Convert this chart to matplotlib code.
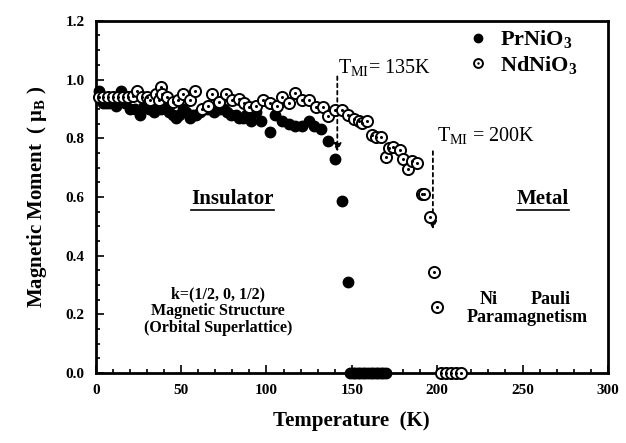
import numpy as np
import matplotlib
matplotlib.use("Agg")
import matplotlib.pyplot as plt
from matplotlib.legend_handler import HandlerTuple

plt.rcParams['font.family'] = ['Liberation Serif', 'DejaVu Serif']
plt.rcParams['mathtext.fontset'] = 'custom'
plt.rcParams['mathtext.rm'] = 'Liberation Serif'
plt.rcParams['mathtext.it'] = 'Liberation Serif:italic'
plt.rcParams['mathtext.bf'] = 'Liberation Serif:bold'

# PrNiO3 (filled)
pr_temp = [2, 4, 6, 8, 10, 12, 15, 17, 20, 23, 26, 28, 31, 34, 36, 38, 41, 43, 45,
           47, 49, 51, 53, 55, 57, 59, 61, 63, 65, 67, 69, 71, 73, 75, 77, 79, 82,
           84, 86, 88, 91, 94, 97, 102, 105, 109, 113, 117, 121, 125, 128, 132,
           136, 140, 144, 148]
pr_moment = [0.96, 0.92, 0.92, 0.92, 0.92, 0.91, 0.96, 0.92, 0.90, 0.90, 0.88,
             0.91, 0.90, 0.89, 0.90, 0.90, 0.91, 0.89, 0.88, 0.87, 0.88, 0.90,
             0.89, 0.87, 0.88, 0.88, 0.89, 0.90, 0.90, 0.90, 0.89, 0.90, 0.90,
             0.90, 0.89, 0.88, 0.88, 0.87, 0.87, 0.88, 0.86, 0.89, 0.86, 0.82,
             0.88, 0.86, 0.85, 0.84, 0.84, 0.86, 0.84, 0.83, 0.79, 0.73, 0.585,
             0.31]
pr_zero_temp = [149, 150.5, 152, 153.5, 155, 156.5, 158, 159.5, 161, 162.5, 164,
                165.5, 167, 168.5, 170]

# NdNiO3 (open, dotted)
nd_temp = [2, 4, 7, 10, 13, 16, 19, 22, 24, 27, 30, 32, 35, 37, 38, 39, 42, 45,
           48, 51, 55, 58, 62, 66, 68, 72, 76, 80, 84, 87, 90, 94, 98, 102, 106,
           109, 113, 117, 121, 125, 129, 133, 136, 140, 144, 148, 151, 154, 156,
           159, 162, 164, 167, 170, 172, 174, 178, 180, 183, 185, 188, 191, 192.5,
           196, 198, 200]
nd_moment = [0.94, 0.94, 0.94, 0.94, 0.94, 0.94, 0.94, 0.945, 0.96, 0.94, 0.94,
             0.93, 0.95, 0.93, 0.975, 0.95, 0.94, 0.925, 0.93, 0.95, 0.93, 0.96,
             0.90, 0.91, 0.95, 0.925, 0.95, 0.93, 0.935, 0.92, 0.905, 0.91, 0.93,
             0.92, 0.91, 0.94, 0.92, 0.955, 0.93, 0.93, 0.905, 0.905, 0.875, 0.895,
             0.895, 0.88, 0.867, 0.857, 0.853, 0.857, 0.812, 0.805, 0.805, 0.737,
             0.768, 0.77, 0.76, 0.73, 0.696, 0.723, 0.717, 0.61, 0.61, 0.53, 0.345,
             0.225]
nd_zero_temp = [202, 205, 208, 211, 214]

fig = plt.figure(figsize=(6.26, 4.43), dpi=100)
ax = fig.add_axes([0.153, 0.158, 0.818, 0.795])

pr_x = pr_temp + pr_zero_temp
pr_y = pr_moment + [0.0] * len(pr_zero_temp)
nd_x = nd_temp + nd_zero_temp
nd_y = nd_moment + [0.0] * len(nd_zero_temp)

h_pr, = ax.plot(pr_x, pr_y, 'o', ms=7.5, color='black', clip_on=False, zorder=3)
h_nd1, = ax.plot(nd_x, nd_y, 'o', ms=8, mfc='white', mec='black', mew=1.4,
                 clip_on=False, zorder=4)
h_nd2, = ax.plot(nd_x, nd_y, 'o', ms=2.2, color='black', mew=0,
                 clip_on=False, zorder=5)

ax.set_xlim(0, 300)
ax.set_ylim(0, 1.2)
ax.set_xticks(np.arange(0, 301, 50))
ax.set_xticks(np.arange(0, 301, 10), minor=True)
ax.set_yticks(np.arange(0, 1.21, 0.2))
ax.set_yticks(np.arange(0, 1.21, 0.05), minor=True)
ax.set_yticklabels([f"{v:.1f}" for v in np.arange(0, 1.21, 0.2)])
ax.tick_params(which='both', direction='in', top=False, right=False, width=1.2)
ax.tick_params(which='major', length=6, labelsize=11, pad=8)
ax.tick_params(which='minor', length=3)
for lab in ax.get_xticklabels() + ax.get_yticklabels():
    lab.set_fontweight('bold')
for sp in ax.spines.values():
    sp.set_linewidth(2)

ax.set_xlabel("Temperature  (K)", fontsize=15, fontweight='bold', labelpad=10)
ax.set_ylabel("Magnetic Moment  ( μ$_\\mathbf{B}$ )", fontsize=15,
              fontweight='bold', labelpad=12)

leg = ax.legend([h_pr, (h_nd1, h_nd2)],
                ["PrNiO$_\\mathbf{3}$", "NdNiO$_\\mathbf{3}$"],
                handler_map={tuple: HandlerTuple(ndivide=1, pad=0)},
                loc='upper left', bbox_to_anchor=(0.685, 1.035), frameon=False,
                fontsize=16, handlelength=1.0, handletextpad=0.5,
                labelspacing=0.15, markerscale=0.8)
for t in leg.get_texts():
    t.set_fontweight('bold')

# transition arrows
ax.annotate("", xy=(141.5, 0.745), xytext=(141.5, 1.02),
            arrowprops=dict(arrowstyle='-|>', linestyle=(0, (2, 2)), lw=1.3,
                            color='black', mutation_scale=12))
ax.text(142, 1.04, "T$_{\\rm MI}$= 135K", fontsize=14.5, va='center', ha='left')
ax.annotate("", xy=(197.5, 0.48), xytext=(197.5, 0.765),
            arrowprops=dict(arrowstyle='-|>', linestyle=(0, (2, 2)), lw=1.3,
                            color='black', mutation_scale=12))
ax.text(200, 0.81, "T$_{\\rm MI}$ = 200K", fontsize=14.5, va='center', ha='left')

t_ins = ax.text(80, 0.56, "Insulator", fontsize=15, fontweight='bold',
                ha='center', va='bottom')
t_met = ax.text(262, 0.56, "Metal", fontsize=15, fontweight='bold',
                ha='center', va='bottom')

ax.text(71.5, 0.21, "k=(1/2, 0, 1/2)\nMagnetic Structure\n(Orbital Superlattice)",
        fontsize=11.5, fontweight='bold', ha='center', va='center',
        linespacing=1.05)
ax.text(225, 0.25, "Ni", fontsize=13, fontweight='bold', ha='left', va='center')
ax.text(255, 0.25, "Pauli", fontsize=13, fontweight='bold', ha='left', va='center')
ax.text(217, 0.19, "Paramagnetism", fontsize=13, fontweight='bold', ha='left',
        va='center')

# underline the region labels
fig.canvas.draw()
inv = ax.transData.inverted()
for t in (t_ins, t_met):
    bb = t.get_window_extent()
    (x0, y0), (x1, _) = inv.transform([[bb.x0, bb.y0], [bb.x1, bb.y1]])
    ax.plot([x0, x1], [y0 - 0.005, y0 - 0.005], color='black', lw=1.2)

fig.savefig("out.png", dpi=100)
